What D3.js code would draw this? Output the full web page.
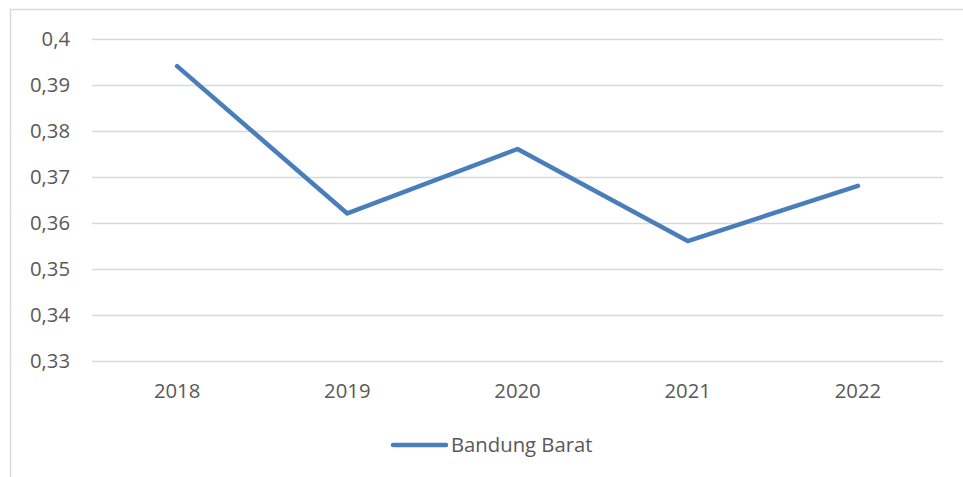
<!DOCTYPE html>
<html>
<head>
<meta charset="utf-8">
<script src="https://cdn.jsdelivr.net/npm/d3@7"></script>
<style>
  body { margin: 0; background: #fff; }
  text { font-family: "Open Sans", Lato, sans-serif; fill: #595959; }
</style>
</head>
<body>
<script>
// data
const years = ['2018', '2019', '2020', '2021', '2022'];
const values = [0.394, 0.362, 0.376, 0.356, 0.368];
const yTicks = [0.33, 0.34, 0.35, 0.36, 0.37, 0.38, 0.39, 0.4];
const seriesName = 'Bandung Barat';

const width = 963, height = 477;
const margin = {top: 38.5, left: 92};
const plotRight = 943;
const fs = 20.3;

const svg = d3.select('body').append('svg').attr('width', width).attr('height', height);

// outer chart border (right and bottom fall outside the picture)
svg.append('rect')
   .attr('x', 10.5).attr('y', 9.5).attr('width', 1000).attr('height', 600)
   .attr('fill', 'none').attr('stroke', '#d9d9d9').attr('stroke-width', 1.5);

const x = d3.scaleBand().domain(years).range([margin.left, plotRight]);
const y = d3.scaleLinear().domain([0.33, 0.4]).range([360.8, margin.top]);

// gridlines
svg.append('g').selectAll('line').data(yTicks).enter().append('line')
   .attr('x1', margin.left).attr('x2', plotRight)
   .attr('y1', d => Math.round(y(d)) + 0.5).attr('y2', d => Math.round(y(d)) + 0.5)
   .attr('stroke', '#d9d9d9').attr('stroke-width', 1.3);

// y labels
const fmt = d => d3.format('.2~f')(d).replace('.', ',');
svg.append('g').selectAll('text').data(yTicks).enter().append('text')
   .attr('x', 70).attr('y', d => y(d)).attr('dy', '0.35em')
   .attr('text-anchor', 'end').attr('font-size', fs)
   .text(fmt);

// x labels
svg.append('g').selectAll('text').data(years).enter().append('text')
   .attr('x', d => x(d) + x.bandwidth() / 2).attr('y', 391).attr('dy', '0.35em')
   .attr('text-anchor', 'middle').attr('font-size', fs)
   .text(d => d);

// the line
const line = d3.line()
   .x((d, i) => x(years[i]) + x.bandwidth() / 2)
   .y(d => y(d));
svg.append('path').datum(values)
   .attr('d', line)
   .attr('fill', 'none').attr('stroke', '#4a7ebb').attr('stroke-width', 4.5)
   .attr('stroke-linecap', 'round').attr('stroke-linejoin', 'round');

// legend
const lg = svg.append('g').attr('transform', 'translate(393,445)');
lg.append('line').attr('x1', 0).attr('x2', 53).attr('y1', 0).attr('y2', 0)
  .attr('stroke', '#4a7ebb').attr('stroke-width', 4.5).attr('stroke-linecap', 'round');
lg.append('text').attr('x', 58).attr('y', 0).attr('dy', '0.35em')
  .attr('font-size', fs).text(seriesName);
</script>
</body>
</html>
